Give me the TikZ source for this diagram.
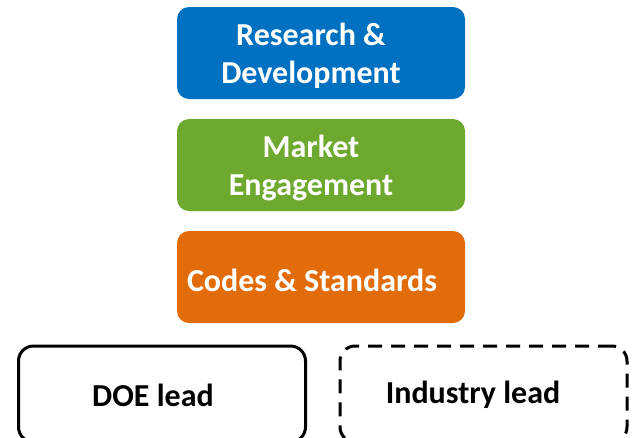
\documentclass[tikz,border=0pt]{standalone}
\usepackage{fontspec}
\setmainfont{Carlito}
\definecolor{rdblue}{HTML}{0070C0}
\definecolor{megreen}{HTML}{6EA92F}
\definecolor{csorange}{HTML}{E36C0A}
\tikzset{
  prog/.style={rounded corners=12pt, minimum width=288pt, minimum height=92pt, inner sep=0pt},
  progtext/.style={text=white, font=\bfseries\fontsize{32}{38}\selectfont, align=center, inner sep=0pt},
  lead/.style={draw=black, line width=3pt, rounded corners=15pt, minimum width=287pt, minimum height=96pt, inner sep=0pt},
  leadtext/.style={text=black, font=\bfseries\fontsize{32}{38}\selectfont, inner sep=0pt}
}
\begin{document}
\begin{tikzpicture}[x=1pt,y=-1pt]
            \useasboundingbox (0,0) rectangle (635,437);
            \node[prog, fill=rdblue] (RD) at (321,53){};
            \node[prog, fill=megreen] (ME) at (321,165){};
            \node[prog, fill=csorange] (CS) at (321,277){};
            \node[progtext] (RDtext) at (311,56){Research \&\\Development};
            \node[progtext] (MEtext) at (311,168){Market\\Engagement};
            \node[progtext] (CStext) at (312,280){Codes \& Standards};
            \node[lead] (DOE) at (162,394){};
            \node[lead, dash pattern=on 14pt off 9pt] (IND) at (483.5,394){};
            \node[leadtext] (DOEtext) at (153,395){DOE lead};
            \node[leadtext] (INDtext) at (473,395){Industry lead};
\end{tikzpicture}
\end{document}
